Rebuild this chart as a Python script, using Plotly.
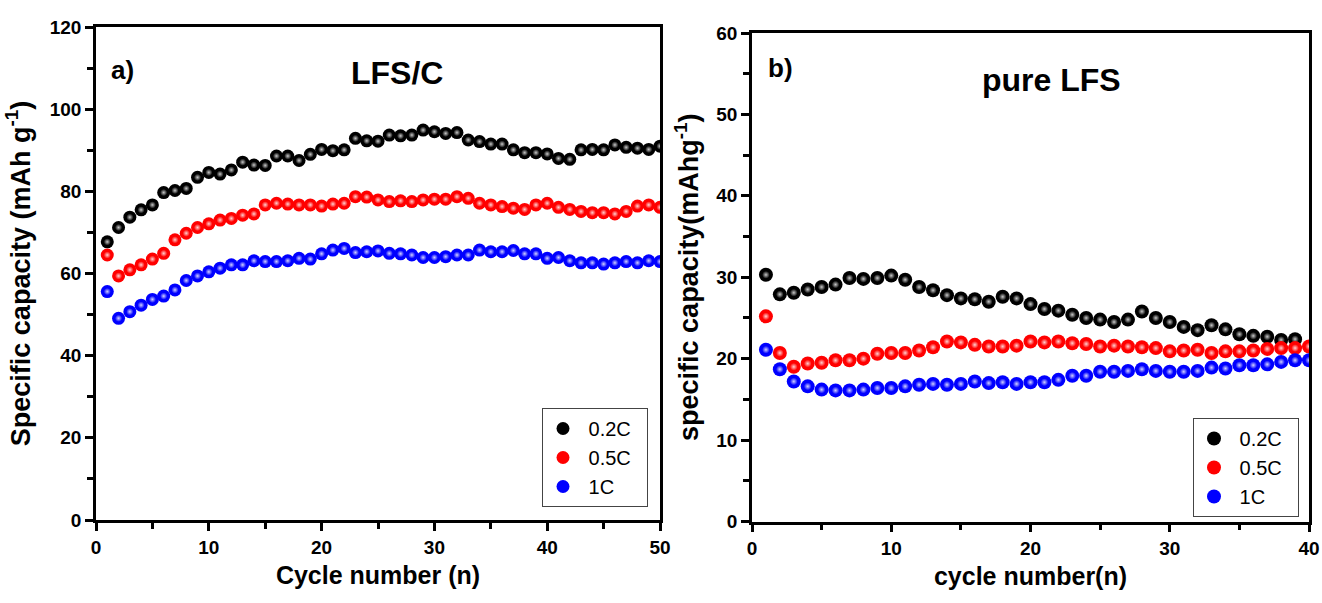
import plotly.graph_objects as go

# ---------------- data ----------------
cycles_a = list(range(1, 51))
cap_a_02C = [67.7, 71.2, 73.7, 75.5, 76.7, 79.7, 80.2, 80.7, 83.4, 84.6,
             84.2, 85.2, 87.1, 86.4, 86.3, 88.6, 88.6, 87.5, 89.0, 90.2,
             89.9, 90.1, 92.9, 92.3, 92.2, 93.7, 93.5, 93.7, 94.9, 94.5,
             94.1, 94.3, 92.5, 92.1, 91.5, 91.5, 90.1, 89.4, 89.4, 89.1,
             88.0, 87.8, 90.1, 90.2, 90.1, 91.3, 90.7, 90.5, 90.2, 91.0]
cap_a_05C = [64.5, 59.4, 60.9, 62.1, 63.5, 64.9, 68.2, 69.8, 71.2, 72.1,
             73.0, 73.4, 74.2, 74.5, 76.7, 77.1, 76.9, 76.7, 76.7, 76.4,
             76.9, 77.1, 78.7, 78.6, 77.9, 77.5, 77.7, 77.5, 77.9, 78.1,
             78.1, 78.7, 78.3, 77.1, 76.7, 76.3, 75.9, 75.6, 76.7, 77.1,
             76.1, 75.6, 75.1, 74.8, 74.8, 74.5, 75.1, 76.4, 76.7, 76.1]
cap_a_1C = [55.6, 49.1, 50.7, 52.3, 53.7, 54.5, 56.0, 58.3, 59.4, 60.4,
            61.3, 62.1, 62.1, 63.1, 62.9, 62.9, 63.1, 63.7, 63.5, 64.8,
            65.7, 66.1, 65.1, 65.3, 65.5, 64.9, 64.8, 64.5, 63.9, 63.9,
            64.1, 64.5, 64.5, 65.7, 65.3, 65.3, 65.6, 64.8, 64.8, 63.7,
            63.9, 63.1, 62.6, 62.6, 62.3, 62.6, 62.9, 62.6, 63.1, 62.9]

cycles_b_02C = list(range(1, 40))
cycles_b = list(range(1, 41))
cap_b_02C = [30.3, 27.9, 28.1, 28.5, 28.8, 29.1, 29.9, 29.8, 29.9, 30.2,
             29.7, 28.8, 28.4, 27.8, 27.4, 27.3, 27.0, 27.6, 27.4, 26.7,
             26.1, 25.9, 25.4, 25.0, 24.8, 24.5, 24.8, 25.8, 25.0, 24.5,
             23.9, 23.5, 24.1, 23.6, 23.0, 22.8, 22.7, 22.3, 22.4]
cap_b_05C = [25.2, 20.7, 19.0, 19.4, 19.5, 19.8, 19.8, 20.0, 20.6, 20.7,
             20.7, 21.0, 21.4, 22.1, 22.0, 21.7, 21.5, 21.5, 21.6, 22.1,
             22.0, 22.1, 21.9, 21.8, 21.5, 21.6, 21.5, 21.4, 21.3, 20.9,
             21.0, 21.1, 20.7, 20.9, 20.9, 21.0, 21.2, 21.3, 21.3, 21.5]
cap_b_1C = [21.1, 18.7, 17.2, 16.6, 16.2, 16.1, 16.1, 16.2, 16.4, 16.4,
            16.6, 16.8, 16.9, 16.8, 16.9, 17.2, 17.0, 17.1, 16.9, 17.1,
            17.1, 17.4, 17.9, 17.9, 18.4, 18.4, 18.5, 18.7, 18.5, 18.4,
            18.4, 18.5, 18.9, 18.8, 19.2, 19.2, 19.3, 19.6, 19.8, 19.8]

labels = ["0.2C", "0.5C", "1C"]
colors = ["#000000", "#ff0000", "#0000ff"]
highlights = ["#c8c8c8", "#ffd0d0", "#d0d0ff"]

W, H = 1322, 603
FONT = "Arial, Liberation Sans, sans-serif"
PAD = "\u00a0" * 2

fig = go.Figure()

def add_series(x, y, i, xa, ya, legend, size):
    fig.add_trace(go.Scatter(
        x=x, y=y, mode="markers", name="\u00a0" + labels[i] + PAD, xaxis=xa, yaxis=ya,
        legend=legend, legendgroup=legend + labels[i],
        marker=dict(size=size, color=colors[i], line=dict(width=0))))
    fig.add_trace(go.Scatter(
        x=x, y=y, mode="markers", name=labels[i], xaxis=xa, yaxis=ya,
        legend=legend, legendgroup=legend + labels[i], showlegend=False,
        hoverinfo="skip",
        marker=dict(size=size * 0.55, color=colors[i], line=dict(width=0),
                    gradient=dict(type="radial", color=highlights[i]))))

for i, yv in enumerate([cap_a_02C, cap_a_05C, cap_a_1C]):
    add_series(cycles_a, yv, i, "x", "y", "legend", 13)
for i, (xv, yv) in enumerate([(cycles_b_02C, cap_b_02C), (cycles_b, cap_b_05C), (cycles_b, cap_b_1C)]):
    add_series(xv, yv, i, "x2", "y2", "legend2", 14)

def px_x(p):
    return p / W

def px_y(p):
    return 1 - p / H

axis_common = dict(
    showline=True, linewidth=2.5, linecolor="black", mirror=True,
    ticks="outside", ticklen=8, tickwidth=2.5, tickcolor="black",
    showgrid=False, zeroline=False, automargin=False,
    tickprefix="<b>", ticksuffix="</b>",
    tickfont=dict(family=FONT, size=19, color="black", weight="bold"),
)
minor_common = dict(ticks="outside", ticklen=6, tickwidth=2.5, tickcolor="black", showgrid=False)
xtitle_font = dict(family=FONT, size=25, color="black", weight="bold")
ytitle_font = dict(family=FONT, size=27, color="black", weight="bold")

fig.update_layout(
    template="none",
    width=W, height=H,
    margin=dict(l=0, r=0, t=0, b=0),
    paper_bgcolor="white", plot_bgcolor="white",
    showlegend=True,
    xaxis=dict(axis_common, domain=[px_x(96), px_x(660)], range=[0, 50], dtick=10,
               minor=dict(minor_common, dtick=5),
               title=dict(text="Cycle number (n)", standoff=10, font=xtitle_font),
               anchor="y"),
    yaxis=dict(axis_common, domain=[px_y(520), px_y(27)], range=[0, 120], dtick=20,
               minor=dict(minor_common, dtick=10),
               title=dict(text="Specific capacity (mAh g<sup>-1</sup>)", standoff=12, font=ytitle_font),
               anchor="x"),
    xaxis2=dict(axis_common, domain=[px_x(752), px_x(1309)], range=[0, 40], dtick=10,
                minor=dict(minor_common, dtick=5),
                title=dict(text="cycle number(n)", standoff=10, font=xtitle_font),
                anchor="y2"),
    yaxis2=dict(axis_common, domain=[px_y(521.5), px_y(33)], range=[0, 60], dtick=10,
                minor=dict(minor_common, dtick=5),
                title=dict(text="specific capacity(mAhg<sup>-1</sup>)", standoff=10, font=ytitle_font),
                anchor="x2"),
    legend=dict(x=px_x(542), y=px_y(408), xanchor="left", yanchor="top",
                bgcolor="white", bordercolor="#444444", borderwidth=1,
                font=dict(family=FONT, size=20, color="black"),
                itemsizing="trace", tracegroupgap=0),
    legend2=dict(x=px_x(1193), y=px_y(418), xanchor="left", yanchor="top",
                 bgcolor="white", bordercolor="#444444", borderwidth=1,
                 font=dict(family=FONT, size=20, color="black"),
                 itemsizing="trace", tracegroupgap=0),
)

ann_font = lambda s: dict(family=FONT, size=s, color="black", weight="bold")
for txt, px, py, s in [("a)", 122, 70, 26), ("LFS/C", 397, 73, 32),
                       ("b)", 780, 68, 26), ("pure LFS", 1051, 80, 32)]:
    fig.add_annotation(text=txt, x=px_x(px), y=px_y(py), xref="paper", yref="paper",
                       xanchor="center", yanchor="middle",
                       showarrow=False, font=ann_font(s))

fig.write_html("out.html",
               config={"displayModeBar": False},
               post_script="document.body.style.margin='0';document.body.style.padding='0';"
                           "document.documentElement.style.overflow='hidden';")
